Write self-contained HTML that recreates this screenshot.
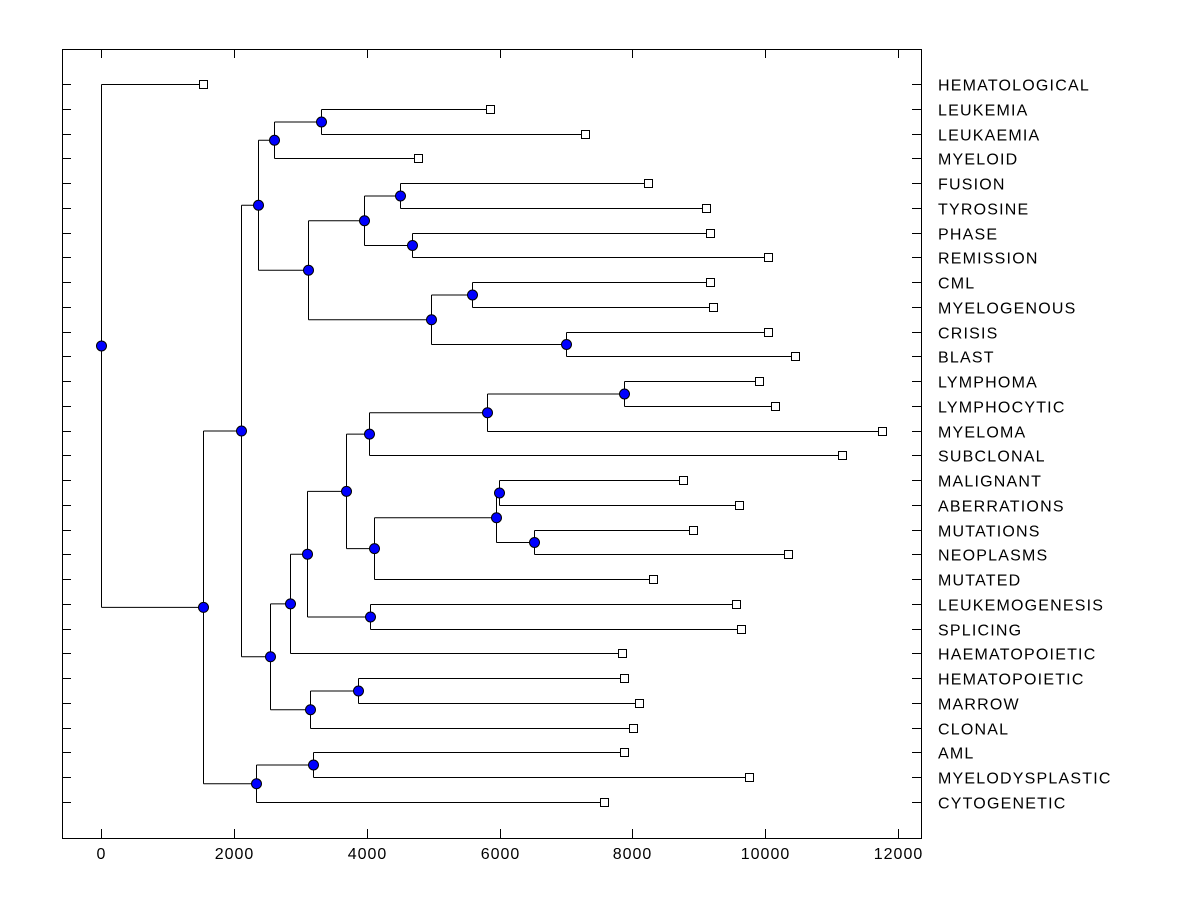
<!DOCTYPE html>
<html><head><meta charset="utf-8"><style>
html,body{margin:0;padding:0;background:#fff;}
svg{display:block;font-family:"Liberation Sans",Arial,sans-serif;}
</style></head><body>
<svg id="chart" width="1200" height="900"></svg>
<script>
const leafLabels=["HEMATOLOGICAL","LEUKEMIA","LEUKAEMIA","MYELOID","FUSION","TYROSINE","PHASE","REMISSION","CML","MYELOGENOUS","CRISIS","BLAST","LYMPHOMA","LYMPHOCYTIC","MYELOMA","SUBCLONAL","MALIGNANT","ABERRATIONS","MUTATIONS","NEOPLASMS","MUTATED","LEUKEMOGENESIS","SPLICING","HAEMATOPOIETIC","HEMATOPOIETIC","MARROW","CLONAL","AML","MYELODYSPLASTIC","CYTOGENETIC"];
const leafValues=[1536,5857,7287,4773,8236,9109,9169,10042,9169,9214,10042,10449,9907,10148,11758,11156,8762,9605,8913,10343,8311,9560,9636,7844,7874,8100,8010,7874,9756,7573];
const xTicks=[0,2000,4000,6000,8000,10000,12000];
// tree: [height, left, right]; numbers are leaf indices
const tree=[0,0,[1536,
  [2108,
    [2364,
      [2605,[3312,1,2],3],
      [3117,
        [3960,[4502,4,5],[4682,6,7]],
        [4968,[5586,8,9],[7001,10,11]]]],
    [2544,
      [2846,
        [3101,
          [3689,
            [4035,[5812,[7874,12,13],14],15],
            [4110,[5947,[5992,16,17],[6519,18,19]],20]],
          [4050,21,22]],
        23],
      [3147,[3869,24,25],26]]],
  [2334,[3192,27,28],29]]];

const L=62,R=921,T=49,B=838;
const xs=v=>Math.round(101+v*(898-101)/12000)+0.5;
const ys=i=>Math.round(84+i*(802-84)/29)+0.5;
const NS="http://www.w3.org/2000/svg";
const svg=document.getElementById('chart');
function mk(tag,attrs,parent){const e=document.createElementNS(NS,tag);for(const k in attrs)e.setAttribute(k,attrs[k]);(parent||svg).appendChild(e);return e;}

const frame=mk('rect',{x:L+0.5,y:T+0.5,width:R-L,height:B-T,fill:'none',stroke:'#000','stroke-width':1});



xTicks.forEach(t=>{
  const x=xs(t);
  const a=mk('line',{x1:x,y1:B,x2:x,y2:B-9,stroke:'#000'});
  
  
  const b=mk('line',{x1:x,y1:T,x2:x,y2:T+9,stroke:'#000'});
  
  
  const tx=mk('text',{x:x,y:859,'text-anchor':'middle','font-size':16,'letter-spacing':1});
  tx.textContent=t;
  
  
});

leafLabels.forEach((lab,i)=>{
  const y=ys(i);
  const a=mk('line',{x1:L,y1:y,x2:L+9,y2:y,stroke:'#000'});
  
  
  const b=mk('line',{x1:R-9,y1:y,x2:R,y2:y,stroke:'#000'});
  
  
  const t=mk('text',{x:938,y:y+6,'font-size':16,'letter-spacing':1.2});
  t.textContent=lab;
  
  
});

const lines=mk('g',{stroke:'#000','stroke-width':1,fill:'none'});


const markers=[];
function layout(n){
  if(typeof n==='number') return {x:xs(leafValues[n]),y:ys(n),leaf:true};
  const a=layout(n[1]),b=layout(n[2]);
  const x=xs(n[0]),y=(a.y+b.y)/2;
  [a,b].forEach(c=>{
    const l=mk('line',{x1:x,y1:c.y,x2:c.x,y2:c.y},lines);
    
    
  });
  const v=mk('line',{x1:x,y1:a.y,x2:x,y2:b.y},lines);
  
  
  markers.push([x,y]);
  return {x,y};
}
layout(tree);
leafValues.forEach((v,i)=>{
  const r=mk('rect',{x:xs(v)-4,y:ys(i)-4,width:8,height:8,fill:'#fff',stroke:'#000'});
  
  
});
markers.forEach(([x,y])=>{
  const c=mk('circle',{cx:x,cy:y,r:5,fill:'#0000ff',stroke:'#000'});
  
  
});
</script>
</body></html>
